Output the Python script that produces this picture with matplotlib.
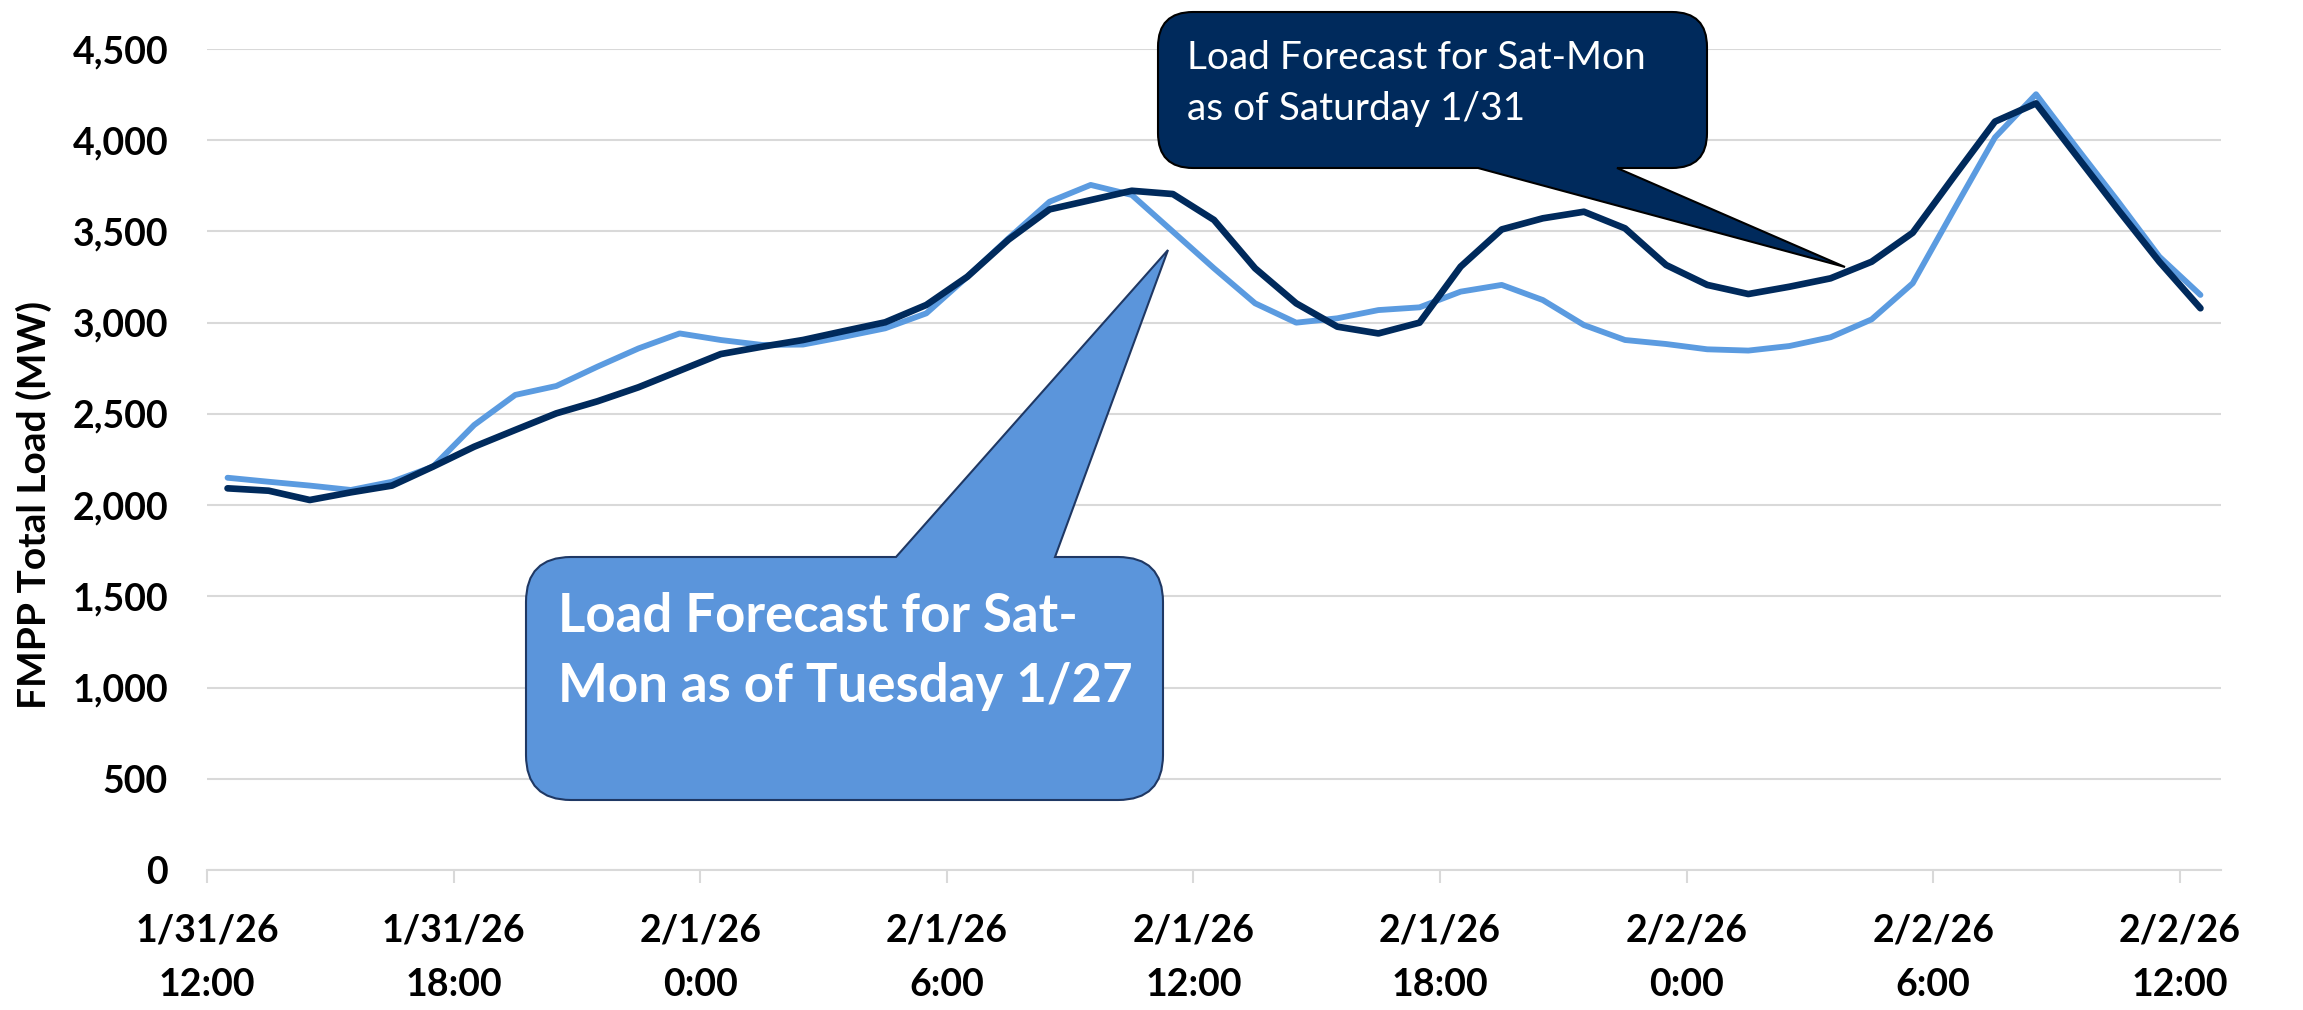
import numpy as np
import matplotlib
matplotlib.use("Agg")
import matplotlib.pyplot as plt
from matplotlib.path import Path
from matplotlib.patches import PathPatch
from matplotlib.transforms import Affine2D
from matplotlib.ticker import FuncFormatter

plt.rcParams['font.family'] = ['Lato', 'DejaVu Sans']

# hourly load forecast (MW), 1/31/26 12:00 .. 2/2/26 12:00
tuesday_fc = [2150, 2128, 2107, 2083, 2128, 2211, 2439, 2604, 2653, 2759,
              2859, 2941, 2905, 2878, 2880, 2923, 2969, 3051, 3252, 3462,
              3663, 3755, 3700, 3499, 3298, 3106, 3000, 3024, 3069, 3084,
              3170, 3207, 3124, 2987, 2905, 2883, 2854, 2847, 2872, 2920,
              3018, 3216, 3618, 4015, 4252, 3955, 3663, 3362, 3152]
saturday_fc = [2092, 2079, 2028, 2070, 2107, 2211, 2320, 2412, 2503, 2569,
               2646, 2737, 2828, 2868, 2905, 2954, 3002, 3097, 3252, 3455,
               3621, 3672, 3723, 3705, 3563, 3298, 3106, 2978, 2941, 3000,
               3307, 3511, 3572, 3608, 3517, 3316, 3207, 3157, 3197, 3243,
               3334, 3493, 3800, 4102, 4202, 3910, 3618, 3334, 3079]
tick_labels = ["1/31/26\n12:00", "1/31/26\n18:00", "2/1/26\n0:00", "2/1/26\n6:00",
               "2/1/26\n12:00", "2/1/26\n18:00", "2/2/26\n0:00", "2/2/26\n6:00",
               "2/2/26\n12:00"]

LIGHT = '#5B9BE0'
NAVY = '#002A5C'

W, H = 2303, 1010
fig = plt.figure(figsize=(W / 100, H / 100), dpi=100)
ax = fig.add_axes([207 / W, 1 - 870 / H, (2221 - 207) / W, (870 - 49) / H])

x = np.arange(len(tuesday_fc)) + 0.5
ax.plot(x, tuesday_fc, color=LIGHT, lw=4.2, solid_capstyle='round', zorder=3)
ax.plot(x, saturday_fc, color=NAVY, lw=4.8, solid_capstyle='round', zorder=4)

ax.set_xlim(0, len(tuesday_fc))
ax.set_ylim(0, 4500)
ax.set_yticks(np.arange(0, 4501, 500))
ax.yaxis.set_major_formatter(FuncFormatter(lambda v, p: f"{int(v):,}"))
ax.set_xticks(np.arange(0, 49, 6))
ax.set_xticklabels(tick_labels, linespacing=1.75)
ax.grid(axis='y', color='#D9D9D9', lw=1.5, zorder=0)
for s in ['left', 'right', 'top']:
    ax.spines[s].set_visible(False)
ax.spines['bottom'].set_color('#D9D9D9')
ax.spines['bottom'].set_linewidth(1.5)
ax.tick_params(axis='y', length=0, pad=28, labelsize=27)
ax.tick_params(axis='x', length=9, width=1.5, color='#D9D9D9', pad=22, labelsize=27)
for lab in ax.get_xticklabels() + ax.get_yticklabels():
    lab.set_fontweight('bold')
ax.set_ylabel("FMPP Total Load (MW)", fontsize=28, fontweight='bold')
ax.yaxis.set_label_coords(52 / W, 0.5, transform=fig.transFigure)

# callouts, laid out in image pixels (origin top-left)
px = Affine2D().scale(1 / W, -1 / H).translate(0, 1) + fig.transFigure


def callout(x0, y0, x1, y1, r, base, tip, side):
    v = [(x0 + r, y0)]
    c = [Path.MOVETO]
    if side == 'top':
        v += [(base[0], y0), tip, (base[1], y0)]
        c += [Path.LINETO] * 3
    v += [(x1 - r, y0), (x1, y0), (x1, y0 + r), (x1, y1 - r), (x1, y1), (x1 - r, y1)]
    c += [Path.LINETO, Path.CURVE3, Path.CURVE3, Path.LINETO, Path.CURVE3, Path.CURVE3]
    if side == 'bottom':
        v += [(base[1], y1), tip, (base[0], y1)]
        c += [Path.LINETO] * 3
    v += [(x0 + r, y1), (x0, y1), (x0, y1 - r), (x0, y0 + r), (x0, y0), (x0 + r, y0), (x0 + r, y0)]
    c += [Path.LINETO, Path.CURVE3, Path.CURVE3, Path.LINETO, Path.CURVE3, Path.CURVE3, Path.CLOSEPOLY]
    return Path(v, c)


p1 = PathPatch(callout(526, 557, 1163, 800, 45, (896, 1055), (1168, 250), 'top'),
               facecolor='#5B95DB', edgecolor='#1F3864', lw=1.5, transform=px, zorder=10)
fig.add_artist(p1)
fig.text(558, 632, "Load Forecast for Sat-", transform=px, color='white',
         fontsize=38, fontweight='bold', va='baseline', zorder=11)
fig.text(558, 702, "Mon as of Tuesday 1/27", transform=px, color='white',
         fontsize=38, fontweight='bold', va='baseline', zorder=11)

p2 = PathPatch(callout(1158, 12, 1707, 168, 35, (1478, 1617), (1845, 267), 'bottom'),
               facecolor=NAVY, edgecolor='black', lw=1.5, transform=px, zorder=10)
fig.add_artist(p2)
fig.text(1187, 69, "Load Forecast for Sat-Mon", transform=px, color='white',
         fontsize=28, va='baseline', zorder=11)
fig.text(1187, 120, "as of Saturday 1/31", transform=px, color='white',
         fontsize=28, va='baseline', zorder=11)

fig.savefig("out.png", dpi=100)
